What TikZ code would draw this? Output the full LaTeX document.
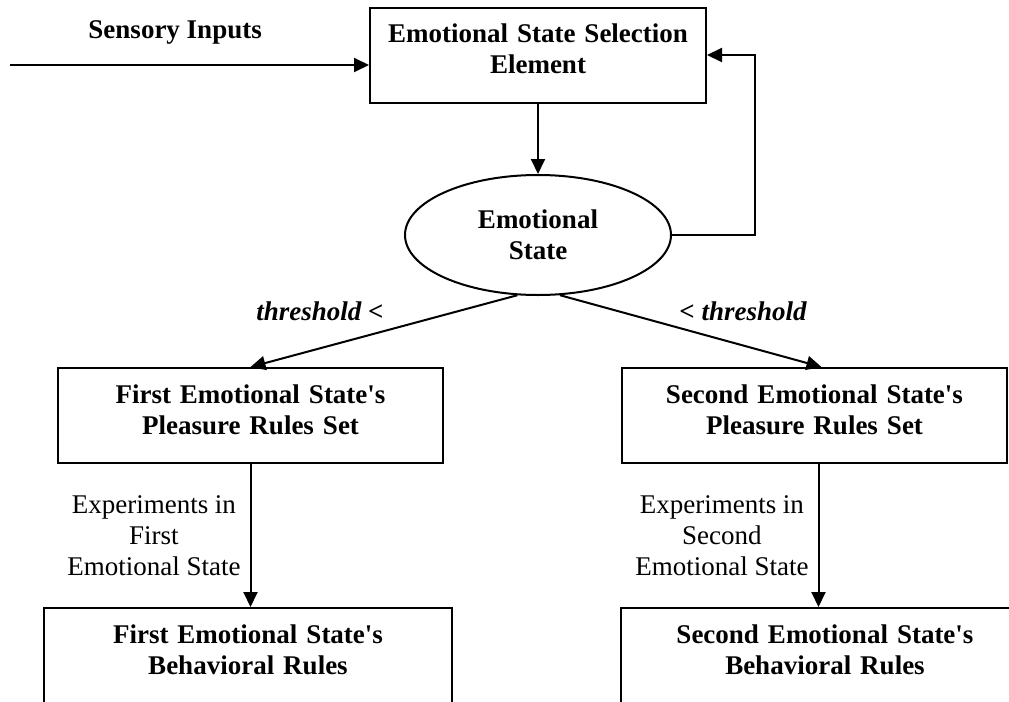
\documentclass[tikz,border=0pt]{standalone}
\usepackage{fontspec}
\setmainfont{Liberation Serif}
\usetikzlibrary{arrows.meta,shapes.geometric}
\tikzset{
  rulebox/.style   = {rectangle, draw=black, line width=1pt, fill=white,
                      align=center, font=\bfseries, inner xsep=0pt, inner ysep=8pt,
                      text width=#1, text height=9.5pt, text depth=22pt},
  stateoval/.style = {ellipse, draw=black, line width=1pt, align=center,
                      font=\bfseries, inner sep=0pt,
                      minimum width=133pt, minimum height=60pt},
  emoflow/.style   = {-{Triangle[length=7.5pt,width=7pt]}, draw=black, line width=1pt},
  condlbl/.style   = {font=\bfseries\itshape},
  explbl/.style    = {align=center},
}

\begin{document}
\fontsize{13.5}{15.5}\selectfont
\begin{tikzpicture}[x=0.5pt, y=-0.5pt]
  \useasboundingbox (0,0) rectangle (1009,702);
  \clip (0,0) rectangle (1009,702);

  \node[rulebox=168pt]   (select)    at (538,55)      {Emotional State Selection\\Element};
  \node[stateoval]       (emostate)  at (538,235)     {Emotional\\State};
  \node[rulebox=192.5pt] (pleasure1) at (250.5,415.5) {First Emotional State\textquotesingle s\\Pleasure Rules Set};
  \node[rulebox=192.5pt] (pleasure2) at (814.5,415.5) {Second Emotional State\textquotesingle s\\Pleasure Rules Set};
  \node[rulebox=204pt]   (behave1)   at (248,655.5)   {First Emotional State\textquotesingle s\\Behavioral Rules};
  \node[rulebox=204pt]   (behave2)   at (825,655.5)   {Second Emotional State\textquotesingle s\\Behavioral Rules};
  \coordinate (sensors) at (10,65);

  \draw[emoflow] (sensors) -- node[above=5.5pt, pos=0.46, font=\bfseries]{Sensory Inputs} (sensors -| select.west);
  \draw[emoflow] (select) -- (emostate);
  \draw[emoflow] (emostate.east) -- ++(83,0) |- (select.east);
  \draw[emoflow] (emostate.-109) -- node[condlbl, pos=0.74, above=9pt]{threshold <} (pleasure1.north);
  \draw[emoflow] (emostate.-70) -- node[condlbl, pos=0.7, above=7.5pt]{< threshold} ([xshift=3.5pt]pleasure2.north);
  \draw[emoflow] (pleasure1.south) -- node[explbl, left]{Experiments in\\First\\Emotional State}
                 (pleasure1.south |- behave1.north);
  \draw[emoflow] ([xshift=2pt]pleasure2.south) -- node[explbl, left]{Experiments in\\Second\\Emotional State}
                 ([xshift=2pt]pleasure2.south |- behave2.north);
\end{tikzpicture}
\end{document}
